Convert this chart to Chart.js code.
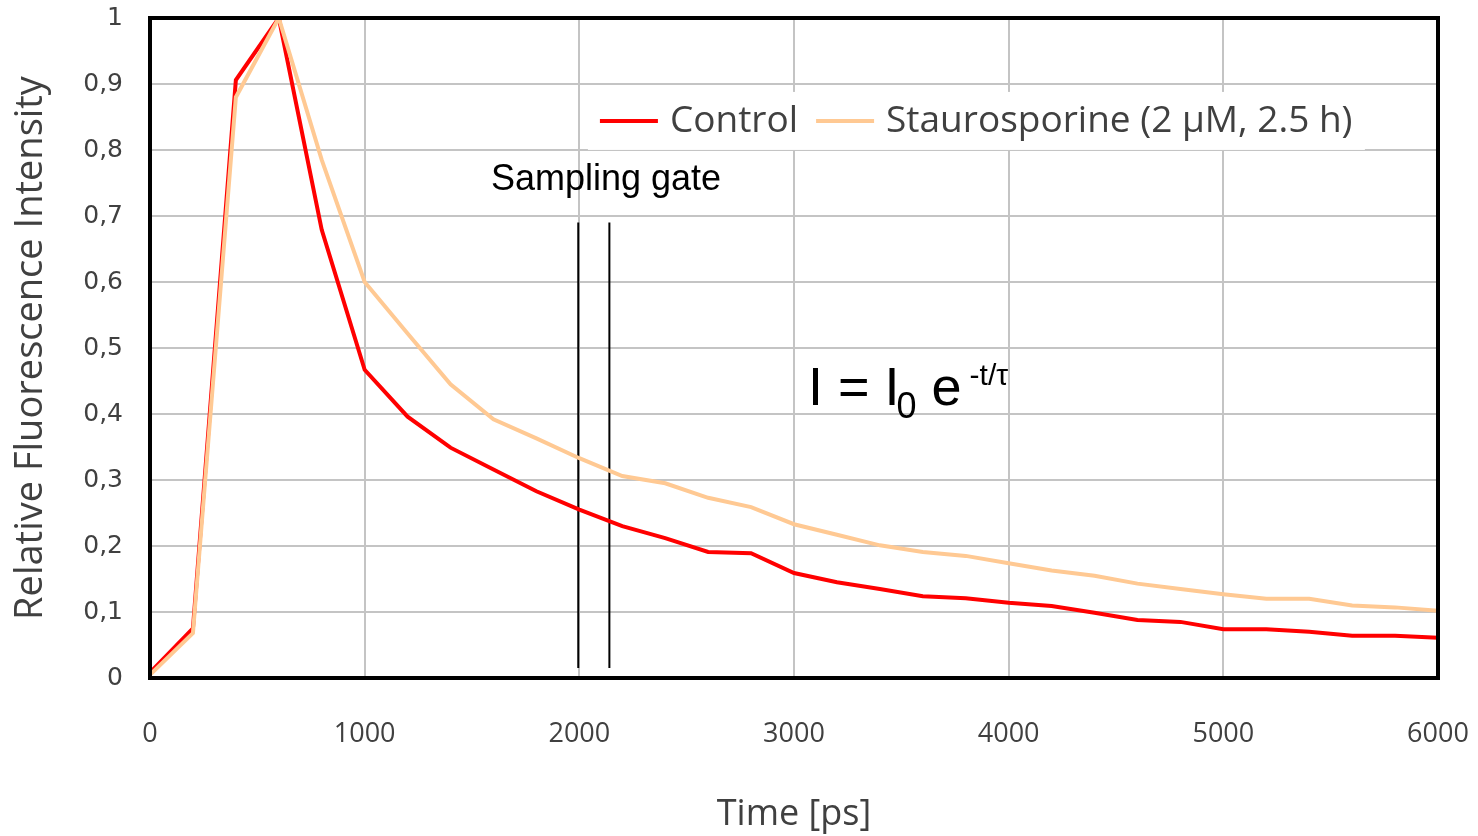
<!DOCTYPE html>
<html>
<head>
<meta charset="utf-8">
<script src="https://cdn.jsdelivr.net/npm/chart.js@4.4.1/dist/chart.umd.min.js"></script>
<style>
    html, body { margin: 0; padding: 0; background: #ffffff; }
    #wrap { width: 1478px; height: 836px; }
</style>
</head>
<body>
<div id="wrap"><canvas id="decay-chart" width="1478" height="836"></canvas></div>
<script>
// Time axis (ps), one reading every 200 ps
const timesPs = [0, 200, 400, 600, 800, 1000, 1200, 1400, 1600, 1800, 2000,
    2200, 2400, 2600, 2800, 3000, 3200, 3400, 3600, 3800, 4000,
    4200, 4400, 4600, 4800, 5000, 5200, 5400, 5600, 5800, 6000];

const controlValues = [0.008, 0.075, 0.906, 1.0, 0.679, 0.467, 0.396, 0.349, 0.316, 0.283, 0.255,
    0.230, 0.212, 0.191, 0.189, 0.159, 0.145, 0.135, 0.124, 0.121, 0.114,
    0.109, 0.099, 0.088, 0.085, 0.074, 0.074, 0.070, 0.064, 0.064, 0.061];

const stauroValues = [0.005, 0.068, 0.880, 1.0, 0.785, 0.600, 0.522, 0.445, 0.392, 0.363, 0.333,
    0.306, 0.295, 0.273, 0.259, 0.233, 0.217, 0.201, 0.191, 0.185, 0.174,
    0.163, 0.155, 0.143, 0.135, 0.127, 0.120, 0.120, 0.110, 0.107, 0.102];

const seriesLabels = ['Control', 'Staurosporine (2 µM, 2.5 h)'];
const seriesColors = ['#ff0000', '#ffc993'];

// Sampling gate: two vertical markers
const gateTimes = [1995, 2140];
const gateSpan = [0.015, 0.69];
const gateLabel = 'Sampling gate';

const xTicks = [0, 1000, 2000, 3000, 4000, 5000, 6000];
const yTicks = [0, 0.1, 0.2, 0.3, 0.4, 0.5, 0.6, 0.7, 0.8, 0.9, 1];

const toPoints = (xs, ys) => xs.map((x, i) => ({x: x, y: ys[i]}));

const gateDatasets = gateTimes.map(t => ({
    label: 'gate',
    data: toPoints([t, t], gateSpan),
    borderColor: '#000000',
    borderWidth: 2,
    pointRadius: 0,
    order: 3
}));

// Legend, gate caption and formula, drawn inside the plot area
const annotationPlugin = {
    id: 'annotations',
    afterDatasetsDraw(chart) {
        const ctx = chart.ctx;
        const xs = chart.scales.x;
        const ys = chart.scales.y;
        ctx.save();

        // legend box
        const lx = xs.getPixelForValue(2040);
        const ly = ys.getPixelForValue(0.888);
        ctx.fillStyle = '#ffffff';
        ctx.fillRect(lx, ly, 777, 58);
        const cy = ly + 29;
        ctx.font = '37px "Open Sans"';
        ctx.textBaseline = 'middle';
        ctx.textAlign = 'left';
        let px = lx + 12;
        seriesLabels.forEach((label, i) => {
            ctx.strokeStyle = seriesColors[i];
            ctx.lineWidth = 4;
            ctx.beginPath();
            ctx.moveTo(px, cy);
            ctx.lineTo(px + 58, cy);
            ctx.stroke();
            ctx.fillStyle = '#404040';
            ctx.fillText(label, px + 70, cy + 1);
            px += 70 + ctx.measureText(label).width + 18;
        });

        // gate caption
        ctx.font = '36px "Liberation Sans"';
        ctx.fillStyle = '#000000';
        ctx.textAlign = 'center';
        ctx.textBaseline = 'alphabetic';
        ctx.fillText(gateLabel, xs.getPixelForValue(2124), ys.getPixelForValue(0.739));

        // decay formula
        const fx = xs.getPixelForValue(3065);
        const fy = ys.getPixelForValue(0.414);
        ctx.textAlign = 'left';
        ctx.font = '54px "Liberation Sans"';
        ctx.fillText('I = I', fx, fy);
        let w = ctx.measureText('I = I').width;
        ctx.font = '36px "Liberation Sans"';
        ctx.fillText('0', fx + w - 3, fy + 13);
        w += ctx.measureText('0').width + 12;
        ctx.font = '54px "Liberation Sans"';
        ctx.fillText('e', fx + w, fy);
        w += ctx.measureText('e').width + 8;
        ctx.font = '30px "Liberation Sans"';
        ctx.fillText('-t/τ', fx + w, fy - 20);

        ctx.restore();
    },
    afterDraw(chart) {
        const ctx = chart.ctx;
        const a = chart.chartArea;
        ctx.save();
        ctx.strokeStyle = '#000000';
        ctx.lineWidth = 4;
        ctx.strokeRect(a.left, a.top, a.right - a.left, a.bottom - a.top);
        ctx.restore();
    }
};

new Chart(document.getElementById('decay-chart'), {
    type: 'line',
    data: {
        datasets: [
            {
                label: seriesLabels[0],
                data: toPoints(timesPs, controlValues),
                borderColor: seriesColors[0],
                borderWidth: 4,
                pointRadius: 0,
                tension: 0,
                order: 2
            },
            {
                label: seriesLabels[1],
                data: toPoints(timesPs, stauroValues),
                borderColor: seriesColors[1],
                borderWidth: 4,
                pointRadius: 0,
                tension: 0,
                order: 1
            },
            ...gateDatasets
        ]
    },
    options: {
        responsive: false,
        animation: false,
        layout: {padding: {left: 0, right: 40, top: 18, bottom: 0}},
        plugins: {
            legend: {display: false},
            tooltip: {enabled: false}
        },
        scales: {
            x: {
                type: 'linear',
                min: 0,
                max: 6000,
                afterFit: scale => {
                    scale.height = 158;
                    scale.paddingLeft = 0;
                    scale.paddingRight = 0;
                },
                afterBuildTicks: scale => { scale.ticks = xTicks.map(v => ({value: v})); },
                grid: {color: '#c4c4c4', lineWidth: 2, drawTicks: false},
                border: {display: false},
                ticks: {
                    padding: 40,
                    color: '#404040',
                    font: {family: 'Open Sans', size: 27},
                    callback: v => String(v)
                },
                title: {
                    display: true,
                    text: 'Time [ps]',
                    color: '#404040',
                    font: {family: 'Open Sans', size: 36},
                    padding: {top: 0, bottom: 0}
                }
            },
            y: {
                type: 'linear',
                min: 0,
                max: 1,
                afterFit: scale => {
                    scale.width = 150;
                    scale.paddingTop = 0;
                    scale.paddingBottom = 0;
                },
                afterBuildTicks: scale => { scale.ticks = yTicks.map(v => ({value: v})); },
                grid: {color: '#c4c4c4', lineWidth: 2, drawTicks: false},
                border: {display: false},
                ticks: {
                    padding: 27,
                    color: '#404040',
                    font: {family: 'DejaVu Sans', size: 25},
                    callback: v => (v === 0 || v === 1) ? String(v) : v.toFixed(1).replace('.', ',')
                },
                title: {
                    display: true,
                    text: 'Relative Fluorescence Intensity',
                    color: '#404040',
                    font: {family: 'Open Sans', size: 38},
                    padding: {top: 8, bottom: 0}
                }
            }
        }
    },
    plugins: [annotationPlugin]
});
</script>
</body>
</html>
